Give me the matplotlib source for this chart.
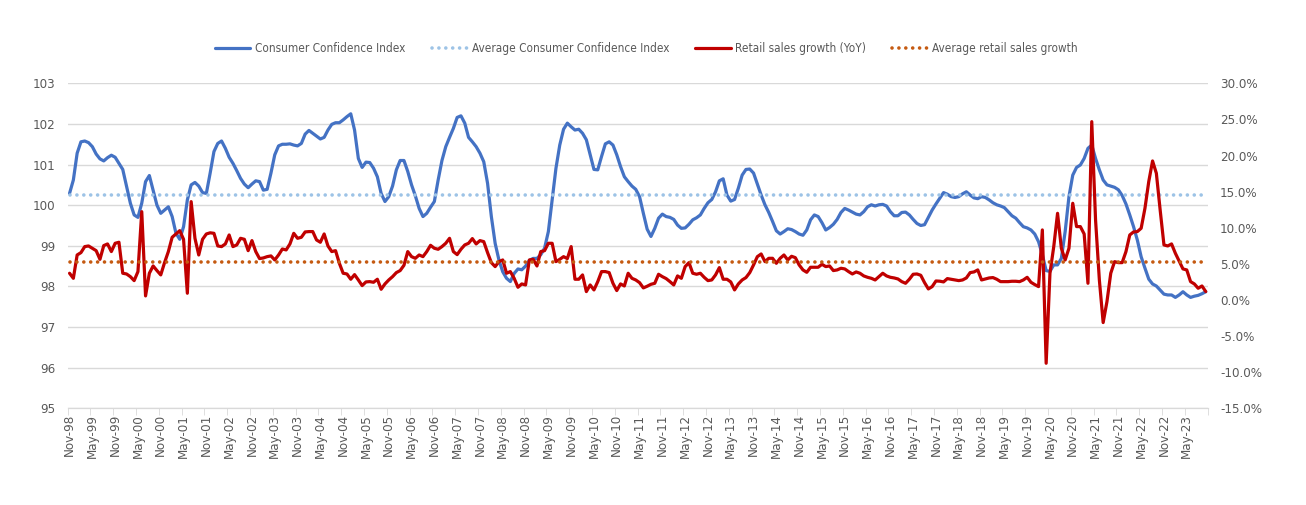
import numpy as np
import pandas as pd
import matplotlib
matplotlib.use("Agg")
import matplotlib.pyplot as plt

plt.rcParams['font.family'] = ['DejaVu Sans']
plt.rcParams['font.stretch'] = 'condensed'

# monthly, Nov-98 .. Oct-23
months = pd.date_range('1998-11-01', periods=300, freq='MS').strftime('%b-%y').tolist()

cci = [
    100.29, 100.62, 101.28, 101.56, 101.58, 101.54, 101.44, 101.26, 101.14, 101.09, 101.17, 101.23,
    101.18, 101.03, 100.88, 100.46, 100.05, 99.76, 99.70, 100.05, 100.58, 100.73, 100.37, 100.00,
    99.80, 99.88, 99.96, 99.72, 99.31, 99.16, 99.47, 100.13, 100.50, 100.56, 100.47, 100.31,
    100.29, 100.79, 101.32, 101.52, 101.58, 101.40, 101.18, 101.03, 100.85, 100.66, 100.52, 100.43,
    100.52, 100.60, 100.58, 100.37, 100.39, 100.79, 101.24, 101.46, 101.50, 101.50, 101.51, 101.48,
    101.46, 101.52, 101.75, 101.84, 101.77, 101.70, 101.63, 101.67, 101.85, 101.99, 102.03, 102.03,
    102.10, 102.18, 102.25, 101.85, 101.15, 100.93, 101.06, 101.05, 100.91, 100.70, 100.29, 100.09,
    100.21, 100.47, 100.87, 101.10, 101.10, 100.83, 100.50, 100.23, 99.92, 99.72, 99.80, 99.95,
    100.09, 100.62, 101.10, 101.44, 101.67, 101.89, 102.16, 102.20, 102.02, 101.67, 101.56, 101.44,
    101.28, 101.07, 100.54, 99.72, 99.06, 98.65, 98.36, 98.20, 98.12, 98.32, 98.43, 98.41,
    98.50, 98.64, 98.69, 98.69, 98.78, 98.94, 99.35, 100.13, 100.91, 101.48, 101.87, 102.02,
    101.93, 101.85, 101.87, 101.77, 101.61, 101.24, 100.88, 100.87, 101.20, 101.51, 101.56, 101.48,
    101.24, 100.95, 100.70, 100.58, 100.47, 100.39, 100.21, 99.80, 99.41, 99.23, 99.43, 99.68,
    99.78, 99.72, 99.70, 99.65, 99.51, 99.43, 99.44, 99.53, 99.64, 99.69, 99.76, 99.92,
    100.06, 100.14, 100.33, 100.60, 100.65, 100.25, 100.10, 100.14, 100.42, 100.74, 100.88, 100.89,
    100.79, 100.52, 100.25, 100.01, 99.82, 99.60, 99.37, 99.29, 99.35, 99.42, 99.40, 99.35,
    99.29, 99.26, 99.39, 99.64, 99.76, 99.72, 99.57, 99.39, 99.45, 99.53, 99.65, 99.82,
    99.92, 99.88, 99.83, 99.78, 99.76, 99.84, 99.96, 100.01, 99.98, 100.01, 100.02, 99.98,
    99.84, 99.74, 99.74, 99.82, 99.83, 99.76, 99.65, 99.55, 99.50, 99.52, 99.70, 99.88,
    100.03, 100.17, 100.31, 100.27, 100.21, 100.19, 100.21, 100.28, 100.33, 100.25, 100.18, 100.16,
    100.21, 100.19, 100.13, 100.06, 100.01, 99.98, 99.94, 99.84, 99.74, 99.68, 99.57, 99.47,
    99.44, 99.39, 99.29, 99.10, 98.78, 98.39, 98.37, 98.53, 98.53, 98.69, 99.35, 100.21,
    100.74, 100.93, 100.99, 101.15, 101.40, 101.48, 101.15, 100.87, 100.62, 100.50, 100.47, 100.44,
    100.38, 100.24, 100.03, 99.76, 99.47, 99.14, 98.73, 98.45, 98.18, 98.06, 98.01, 97.91,
    97.81, 97.79, 97.79, 97.73, 97.79, 97.87, 97.79, 97.73, 97.76, 97.78, 97.82, 97.87,
]

retail = [
    3.70, 3.00, 6.23, 6.56, 7.39, 7.48, 7.16, 6.83, 5.63, 7.53, 7.76, 6.70,
    7.85, 7.99, 3.70, 3.60, 3.23, 2.68, 3.93, 12.23, 0.56, 3.70, 4.71, 4.07,
    3.47, 5.17, 6.70, 8.68, 9.14, 9.60, 8.40, 0.93, 13.62, 8.54, 6.23, 8.40,
    9.14, 9.30, 9.23, 7.48, 7.39, 7.76, 9.00, 7.39, 7.62, 8.54, 8.40, 6.83,
    8.22, 6.70, 5.73, 5.82, 6.00, 6.10, 5.54, 6.23, 7.06, 6.93, 7.76, 9.23,
    8.54, 8.68, 9.42, 9.47, 9.47, 8.31, 7.99, 9.14, 7.48, 6.70, 6.83, 5.08,
    3.70, 3.60, 2.87, 3.51, 2.77, 1.99, 2.50, 2.54, 2.45, 2.87, 1.48, 2.22,
    2.77, 3.23, 3.79, 4.07, 4.80, 6.70, 6.00, 5.77, 6.23, 6.00, 6.70, 7.57,
    7.16, 7.02, 7.39, 7.85, 8.54, 6.70, 6.28, 7.02, 7.62, 7.85, 8.50, 7.76,
    8.22, 8.08, 6.56, 5.17, 4.62, 5.31, 5.54, 3.70, 3.93, 3.00, 1.76, 2.22,
    2.08, 5.54, 5.63, 4.71, 6.70, 6.83, 7.85, 7.85, 5.31, 5.63, 6.00, 5.73,
    7.39, 2.87, 2.87, 3.47, 1.16, 2.08, 1.39, 2.54, 3.93, 3.93, 3.79, 2.31,
    1.30, 2.22, 1.94, 3.70, 3.00, 2.77, 2.40, 1.67, 1.90, 2.17, 2.31, 3.56,
    3.23, 2.96, 2.54, 2.08, 3.33, 3.00, 4.62, 5.17, 3.70, 3.56, 3.70, 3.14,
    2.68, 2.77, 3.47, 4.48, 2.87, 2.87, 2.50, 1.39, 2.22, 2.77, 3.10, 3.79,
    4.85, 6.00, 6.37, 5.31, 5.77, 5.77, 5.08, 5.77, 6.23, 5.54, 6.05, 5.86,
    4.85, 4.16, 3.83, 4.53, 4.53, 4.53, 4.94, 4.62, 4.71, 4.07, 4.16, 4.39,
    4.30, 3.93, 3.60, 3.88, 3.70, 3.33, 3.14, 3.00, 2.77, 3.23, 3.70, 3.33,
    3.14, 3.05, 2.91, 2.54, 2.31, 2.87, 3.56, 3.60, 3.42, 2.40, 1.53, 1.85,
    2.63, 2.60, 2.50, 2.96, 2.87, 2.77, 2.68, 2.77, 3.05, 3.79, 3.88, 4.16,
    2.77, 2.91, 3.05, 3.10, 2.87, 2.54, 2.54, 2.54, 2.59, 2.59, 2.54, 2.77,
    3.14, 2.45, 2.13, 1.85, 9.70, -8.76, 3.70, 7.39, 12.00, 7.16, 5.54, 7.16,
    13.39, 10.16, 10.16, 9.14, 2.31, 24.69, 11.08, 2.77, -3.13, -0.23, 3.70, 5.31,
    5.17, 5.17, 6.70, 9.00, 9.42, 9.47, 9.93, 12.70, 16.39, 19.25, 17.54, 12.46,
    7.62, 7.48, 7.76, 6.47, 5.40, 4.30, 4.16, 2.54, 2.22, 1.62, 1.94, 1.16,
]

avg_cci = 100.25
avg_retail = 5.2

grey = '#595959'
x = np.arange(len(months))

fig = plt.figure(figsize=(13.06, 5.05), dpi=100)
ax = fig.add_axes([0.0518, 0.1915, 0.8729, 0.6435])
ax2 = ax.twinx()

ax.plot(x, cci, color='#4472C4', lw=2.3, solid_capstyle='round', label='Consumer Confidence Index')
ax.plot(x, np.full(len(x), avg_cci), color='#9DC3E6', lw=2.6,
        dashes=(0.01, 1.9), dash_capstyle='round', label='Average Consumer Confidence Index')
ax2.plot(x, retail, color='#C00000', lw=2.3, solid_capstyle='round', label='Retail sales growth (YoY)')
ax2.plot(x, np.full(len(x), avg_retail), color='#C55A11', lw=2.6,
         dashes=(0.01, 1.9), dash_capstyle='round', label='Average retail sales growth')

ax.set_xlim(-0.5, len(x) - 0.5)
ax.set_ylim(95, 103)
ax.set_yticks(range(95, 104))
ax2.set_ylim(-15, 30)
ax2.set_yticks(range(-15, 31, 5))
ax2.set_yticklabels([f'{v:.1f}%' for v in range(-15, 31, 5)])

ax.grid(axis='y', color='#D9D9D9', lw=1)
ax.set_axisbelow(True)
ax.set_xticks(x[::6])
ax.set_xticklabels(months[::6], rotation=90)
ax.set_xticks(np.arange(-0.5, len(x), 6), minor=True)
ax.tick_params(axis='x', which='major', length=0, labelsize=9.5, colors=grey, pad=4)
ax.tick_params(axis='x', which='minor', length=5, color='#D9D9D9')
ax.tick_params(axis='y', length=0, labelsize=9.5, colors=grey, pad=9)
ax2.tick_params(axis='y', length=0, labelsize=9.5, colors=grey, pad=9)

for a in (ax, ax2):
    for s in ('top', 'left', 'right'):
        a.spines[s].set_visible(False)
    a.spines['bottom'].set_color('#D9D9D9')

h1, l1 = ax.get_legend_handles_labels()
h2, l2 = ax2.get_legend_handles_labels()
leg = fig.legend(h1 + h2, l1 + l2, loc='center', bbox_to_anchor=(0.495, 0.903), ncol=4,
                 frameon=False, fontsize=8.5, handlelength=3.0, columnspacing=2.2, handletextpad=0.4)
for t in leg.get_texts():
    t.set_color(grey)

fig.savefig('out.png', dpi=100)
